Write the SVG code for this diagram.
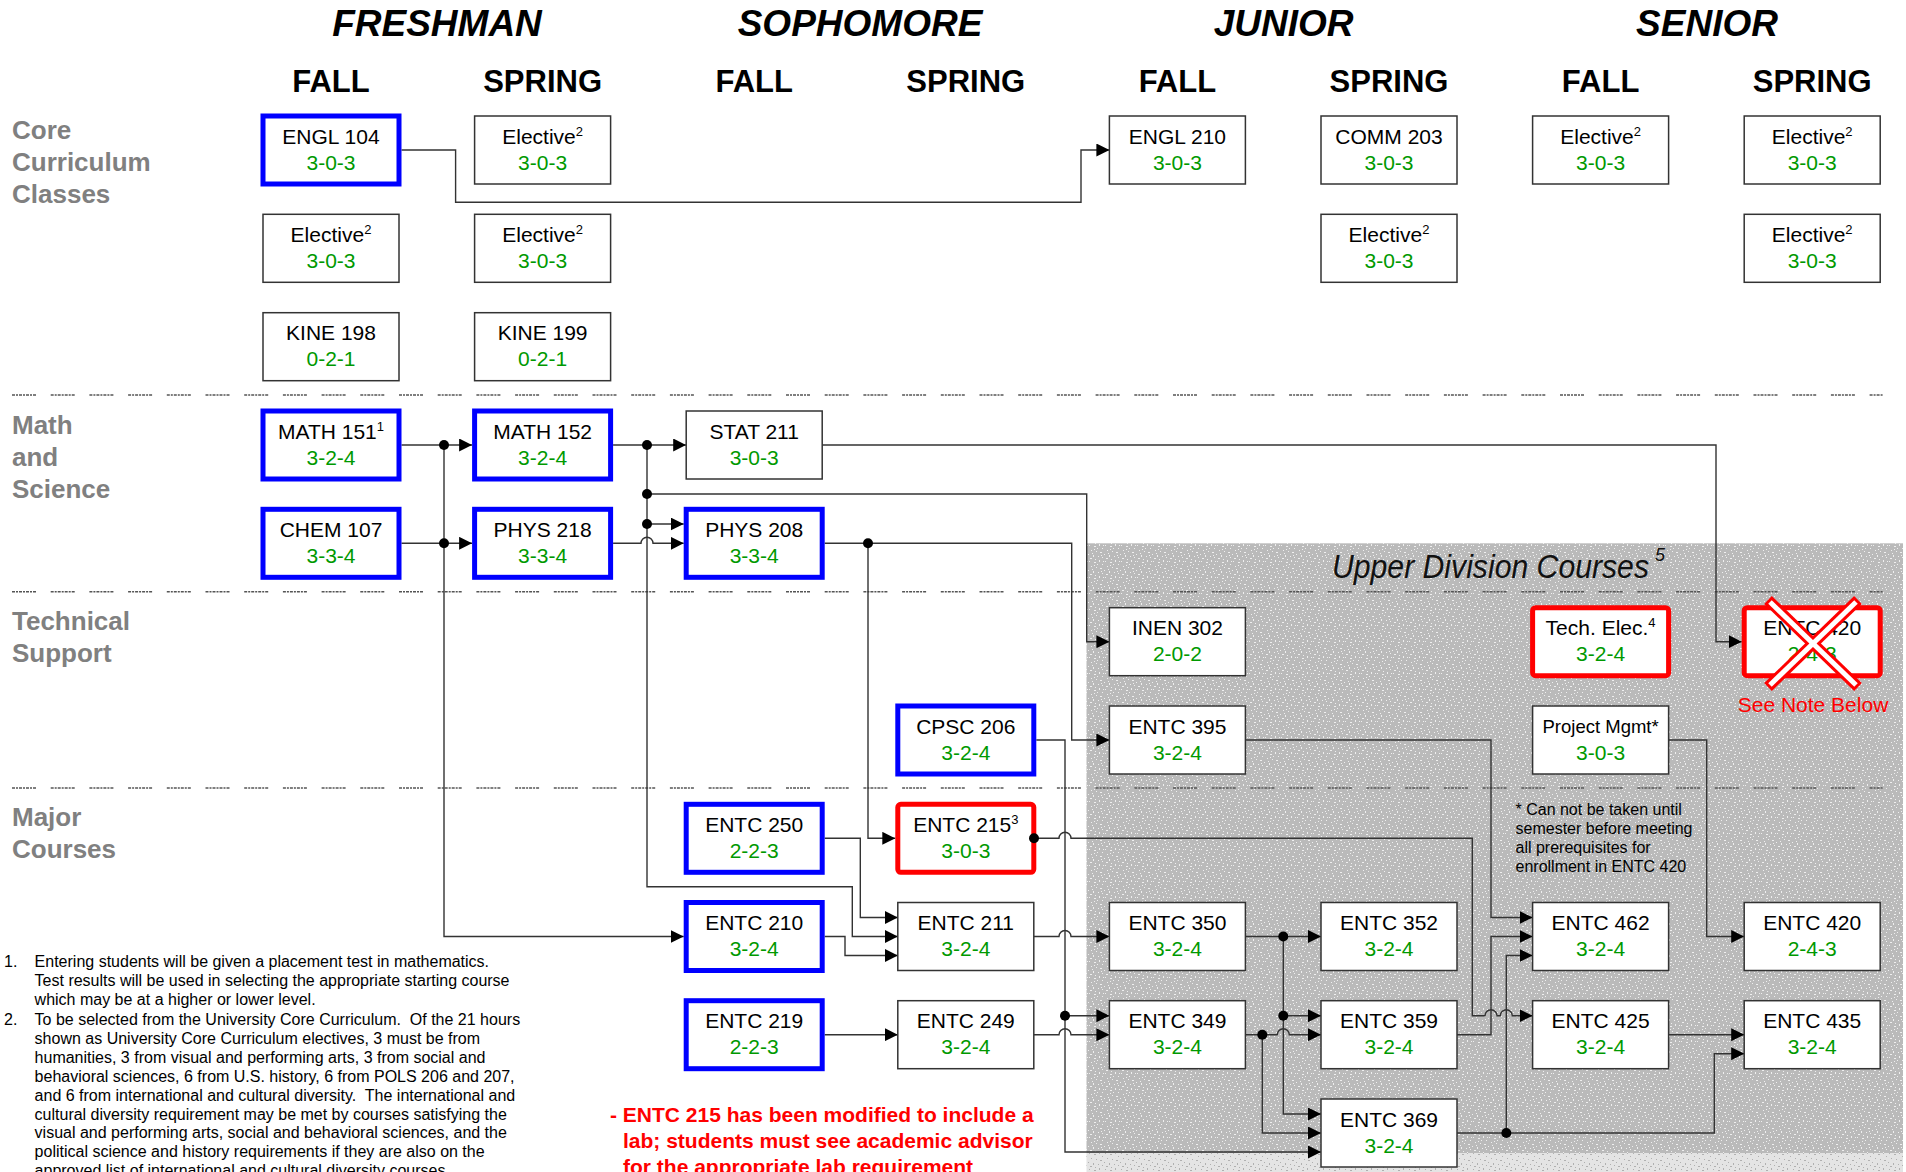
<svg xmlns="http://www.w3.org/2000/svg" width="1906" height="1172" viewBox="0 0 1906 1172">
<defs>
<style>
.box{fill:#fff;stroke:#333;stroke-width:1.5}
.blue{fill:#fff;stroke:#0000ff;stroke-width:5}
.red{fill:#fff;stroke:#ff0000;stroke-width:5}
.nm{font-family:"Liberation Sans",Arial,sans-serif;font-size:21px;fill:#000;text-anchor:middle}
.cr{font-family:"Liberation Sans",Arial,sans-serif;font-size:21px;fill:#009900;text-anchor:middle}
.sup{font-size:13px}
.lbl{font-family:"Liberation Sans",Arial,sans-serif;font-size:26px;font-weight:bold;fill:#808080}
.yr{font-family:"Liberation Sans",Arial,sans-serif;font-size:37px;font-weight:bold;font-style:italic;text-anchor:middle}
.sem{font-family:"Liberation Sans",Arial,sans-serif;font-size:31px;font-weight:bold;text-anchor:middle}
.ln{fill:none;stroke:#333;stroke-width:1.4}
.arr{marker-end:url(#ah)}
.dot{fill:#000}
.sep{stroke:#555;stroke-width:1.6;stroke-dasharray:3 1 2 1 3 1 2 1 3 1 2 1 3 14.7}
.fn{font-family:"Liberation Sans",Arial,sans-serif;font-size:16px;fill:#000}
.note{font-family:"Liberation Sans",Arial,sans-serif;font-size:21px;font-weight:bold;fill:#ff0000}
</style>
<marker id="ah" markerUnits="userSpaceOnUse" markerWidth="13" markerHeight="13" refX="13" refY="6.5" orient="auto">
<path d="M0,0 L13,6.5 L0,13 z" fill="#000"/>
</marker>
<pattern id="grain" width="16" height="16" patternUnits="userSpaceOnUse">
<rect width="16" height="16" fill="#bababa"/>
<path fill="#efefef" d="M1 1h1v1H1zM6 2h2v1H6zM11 0h1v2h-1zM14 4h1v1h-1zM3 6h1v1H3zM8 7h1v1H8zM12 8h2v1h-2zM0 10h1v1H0zM5 11h1v2H5zM10 12h1v1h-1zM14 13h1v1h-1zM2 14h2v1H2zM7 15h1v1H7zM9 4h1v1H9zM4 9h1v1H4zM13 11h1v1h-1zM15 1h1v1h-1zM6 5h1v1H6z"/>
</pattern>
<pattern id="grain2" width="16" height="16" patternUnits="userSpaceOnUse">
<rect width="16" height="16" fill="#e4e4e4"/>
<path fill="#b0b0b0" d="M1 1h1v1H1zM6 2h2v1H6zM11 0h1v2h-1zM14 4h1v1h-1zM3 6h1v1H3zM8 7h1v1H8zM12 8h2v1h-2zM0 10h1v1H0zM5 11h1v2H5zM10 12h1v1h-1zM14 13h1v1h-1zM2 14h2v1H2zM7 15h1v1H7z"/>
</pattern>
</defs>
<rect width="1906" height="1172" fill="#fff"/>

<!-- upper division background -->
<g id="upper-division">
<rect x="1086.5" y="543.3" width="816.5" height="609.7" fill="url(#grain)"/>
<rect x="1086.5" y="1153" width="816.5" height="19" fill="url(#grain2)"/>
<text transform="translate(1332,578) scale(0.915,1)" font-family="'Liberation Sans',Arial,sans-serif" font-size="33" font-style="italic" fill="#111">Upper Division Courses</text>
<text x="1655" y="561" font-family="'Liberation Sans',Arial,sans-serif" font-size="18" font-style="italic" fill="#111">5</text>
</g>

<!-- separators -->
<g id="separators">
<line class="sep" x1="12" y1="395" x2="1883" y2="395"/>
<line class="sep" x1="12" y1="591.7" x2="1883" y2="591.7"/>
<line class="sep" x1="12" y1="788" x2="1883" y2="788"/>
</g>

<!-- headers -->
<g id="headers">
<text class="yr" x="437" y="36">FRESHMAN</text>
<text class="yr" x="860" y="36">SOPHOMORE</text>
<text class="yr" x="1283.6" y="36">JUNIOR</text>
<text class="yr" x="1707" y="36">SENIOR</text>
<text class="sem" x="331" y="92">FALL</text>
<text class="sem" x="542.6" y="92">SPRING</text>
<text class="sem" x="754.2" y="92">FALL</text>
<text class="sem" x="965.8" y="92">SPRING</text>
<text class="sem" x="1177.4" y="92">FALL</text>
<text class="sem" x="1389" y="92">SPRING</text>
<text class="sem" x="1600.6" y="92">FALL</text>
<text class="sem" x="1812.2" y="92">SPRING</text>
</g>

<g id="row-labels">
<text class="lbl" x="12" y="139">Core</text>
<text class="lbl" x="12" y="171">Curriculum</text>
<text class="lbl" x="12" y="203">Classes</text>
<text class="lbl" x="12" y="434">Math</text>
<text class="lbl" x="12" y="466">and</text>
<text class="lbl" x="12" y="498">Science</text>
<text class="lbl" x="12" y="630">Technical</text>
<text class="lbl" x="12" y="662">Support</text>
<text class="lbl" x="12" y="826">Major</text>
<text class="lbl" x="12" y="858">Courses</text>
</g>

<!-- connectors -->
<g id="connectors">
<path class="ln arr" d="M401.5,150 H455.6 V202.3 H1081 V150 H1109.4"/>
<path class="ln arr" d="M401.5,445 H472.1"/>
<path class="ln arr" d="M401.5,543.3 H472.1"/>
<path class="ln arr" d="M444,445 V936.5 H683.7"/>
<path class="ln arr" d="M613.1,445 H686.2"/>
<path class="ln arr" d="M647,445 V886.7 H852.3 V936.5 H897.8"/>
<path class="ln arr" d="M647,494 H1086.7 V641.7 H1109.4"/>
<path class="ln arr" d="M647,524 H683.7"/>
<path class="ln arr" d="M613.1,543.3 H641 A6,6 0 0 1 653,543.3 H683.7"/>
<path class="ln arr" d="M824.7,543.3 H1071.7 V740 H1109.4"/>
<path class="ln arr" d="M868,543.3 V838.3 H895.3"/>
<path class="ln arr" d="M822.2,445 H1716 V641.7 H1741.7"/>
<path class="ln arr" d="M1036.3,740 H1065 V1152 H1321"/>
<path class="ln arr" d="M1065,1015.7 H1109.4"/>
<path class="ln arr" d="M824.7,838.3 H860.3 V917.5 H897.8"/>
<path class="ln arr" d="M824.7,936.5 H845 V955.5 H897.8"/>
<path class="ln arr" d="M824.7,1034.7 H897.8"/>
<path class="ln arr" d="M1036.3,838.3 H1059 A6,6 0 0 1 1071,838.3 H1472.3 V1015.7 H1485 A6,6 0 0 1 1497,1015.7 H1500.3 A6,6 0 0 1 1512.3,1015.7 H1532.6"/>
<path class="ln arr" d="M1033.8,936.5 H1059 A6,6 0 0 1 1071,936.5 H1109.4"/>
<path class="ln arr" d="M1033.8,1034.7 H1059 A6,6 0 0 1 1071,1034.7 H1109.4"/>
<path class="ln arr" d="M1245.4,740 H1491 V917.5 H1532.6"/>
<path class="ln arr" d="M1245.4,936.5 H1321"/>
<path class="ln arr" d="M1283.3,936.5 V1114 H1321"/>
<path class="ln arr" d="M1283.3,1015.7 H1321"/>
<path class="ln arr" d="M1245.4,1034.7 H1277.3 A6,6 0 0 1 1289.3,1034.7 H1321"/>
<path class="ln arr" d="M1262.3,1034.7 V1133 H1321"/>
<path class="ln arr" d="M1457,1034.7 H1491 V936.5 H1532.6"/>
<path class="ln arr" d="M1457,1133 H1714.3 V1053.7 H1744.2"/>
<path class="ln arr" d="M1506.3,1133 V955.5 H1532.6"/>
<path class="ln arr" d="M1668.6,1034.7 H1744.2"/>
<path class="ln arr" d="M1668.6,740 H1706.7 V936.5 H1744.2"/>
<circle class="dot" cx="444" cy="445" r="5"/>
<circle class="dot" cx="444" cy="543.3" r="5"/>
<circle class="dot" cx="647" cy="445" r="5"/>
<circle class="dot" cx="647" cy="494" r="5"/>
<circle class="dot" cx="647" cy="524" r="5"/>
<circle class="dot" cx="868" cy="543.3" r="5"/>
<circle class="dot" cx="1065" cy="1015.7" r="5"/>
<circle class="dot" cx="1283.3" cy="936.5" r="5"/>
<circle class="dot" cx="1283.3" cy="1015.7" r="5"/>
<circle class="dot" cx="1262.3" cy="1034.7" r="5"/>
<circle class="dot" cx="1506.3" cy="1133" r="5"/>
</g>

<!-- Freshman fall -->
<g id="engl104"><rect class="blue" x="263" y="116" width="136" height="68"/><text class="nm" x="331" y="143.5">ENGL 104</text><text class="cr" x="331" y="169.5">3-0-3</text></g>
<g id="elective-ff"><rect class="box" x="263" y="214.3" width="136" height="68"/><text class="nm" x="331" y="241.8">Elective<tspan class="sup" dy="-8">2</tspan></text><text class="cr" x="331" y="267.8">3-0-3</text></g>
<g id="kine198"><rect class="box" x="263" y="312.7" width="136" height="68"/><text class="nm" x="331" y="340.2">KINE 198</text><text class="cr" x="331" y="366.2">0-2-1</text></g>
<g id="math151"><rect class="blue" x="263" y="411" width="136" height="68"/><text class="nm" x="331" y="438.5">MATH 151<tspan class="sup" dy="-8">1</tspan></text><text class="cr" x="331" y="464.5">3-2-4</text></g>
<g id="chem107"><rect class="blue" x="263" y="509.3" width="136" height="68"/><text class="nm" x="331" y="536.8">CHEM 107</text><text class="cr" x="331" y="562.8">3-3-4</text></g>

<!-- Freshman spring -->
<g id="elective-fs1"><rect class="box" x="474.6" y="116" width="136" height="68"/><text class="nm" x="542.6" y="143.5">Elective<tspan class="sup" dy="-8">2</tspan></text><text class="cr" x="542.6" y="169.5">3-0-3</text></g>
<g id="elective-fs2"><rect class="box" x="474.6" y="214.3" width="136" height="68"/><text class="nm" x="542.6" y="241.8">Elective<tspan class="sup" dy="-8">2</tspan></text><text class="cr" x="542.6" y="267.8">3-0-3</text></g>
<g id="kine199"><rect class="box" x="474.6" y="312.7" width="136" height="68"/><text class="nm" x="542.6" y="340.2">KINE 199</text><text class="cr" x="542.6" y="366.2">0-2-1</text></g>
<g id="math152"><rect class="blue" x="474.6" y="411" width="136" height="68"/><text class="nm" x="542.6" y="438.5">MATH 152</text><text class="cr" x="542.6" y="464.5">3-2-4</text></g>
<g id="phys218"><rect class="blue" x="474.6" y="509.3" width="136" height="68"/><text class="nm" x="542.6" y="536.8">PHYS 218</text><text class="cr" x="542.6" y="562.8">3-3-4</text></g>

<!-- Sophomore fall -->
<g id="stat211"><rect class="box" x="686.2" y="411" width="136" height="68"/><text class="nm" x="754.2" y="438.5">STAT 211</text><text class="cr" x="754.2" y="464.5">3-0-3</text></g>
<g id="phys208"><rect class="blue" x="686.2" y="509.3" width="136" height="68"/><text class="nm" x="754.2" y="536.8">PHYS 208</text><text class="cr" x="754.2" y="562.8">3-3-4</text></g>
<g id="entc250"><rect class="blue" x="686.2" y="804.3" width="136" height="68"/><text class="nm" x="754.2" y="831.8">ENTC 250</text><text class="cr" x="754.2" y="857.8">2-2-3</text></g>
<g id="entc210"><rect class="blue" x="686.2" y="902.5" width="136" height="68"/><text class="nm" x="754.2" y="930">ENTC 210</text><text class="cr" x="754.2" y="956">3-2-4</text></g>
<g id="entc219"><rect class="blue" x="686.2" y="1000.7" width="136" height="68"/><text class="nm" x="754.2" y="1028.2">ENTC 219</text><text class="cr" x="754.2" y="1054.2">2-2-3</text></g>

<!-- Sophomore spring -->
<g id="cpsc206"><rect class="blue" x="897.8" y="706" width="136" height="68"/><text class="nm" x="965.8" y="733.5">CPSC 206</text><text class="cr" x="965.8" y="759.5">3-2-4</text></g>
<g id="entc215"><rect class="red" x="897.8" y="804.3" width="136" height="68" rx="3"/><text class="nm" x="965.8" y="831.8">ENTC 215<tspan class="sup" dy="-8">3</tspan></text><text class="cr" x="965.8" y="857.8">3-0-3</text><circle class="dot" cx="1034" cy="838.3" r="5"/></g>
<g id="entc211"><rect class="box" x="897.8" y="902.5" width="136" height="68"/><text class="nm" x="965.8" y="930">ENTC 211</text><text class="cr" x="965.8" y="956">3-2-4</text></g>
<g id="entc249"><rect class="box" x="897.8" y="1000.7" width="136" height="68"/><text class="nm" x="965.8" y="1028.2">ENTC 249</text><text class="cr" x="965.8" y="1054.2">3-2-4</text></g>

<!-- Junior fall -->
<g id="engl210"><rect class="box" x="1109.4" y="116" width="136" height="68"/><text class="nm" x="1177.4" y="143.5">ENGL 210</text><text class="cr" x="1177.4" y="169.5">3-0-3</text></g>
<g id="inen302"><rect class="box" x="1109.4" y="607.7" width="136" height="68"/><text class="nm" x="1177.4" y="635.2">INEN 302</text><text class="cr" x="1177.4" y="661.2">2-0-2</text></g>
<g id="entc395"><rect class="box" x="1109.4" y="706" width="136" height="68"/><text class="nm" x="1177.4" y="733.5">ENTC 395</text><text class="cr" x="1177.4" y="759.5">3-2-4</text></g>
<g id="entc350"><rect class="box" x="1109.4" y="902.5" width="136" height="68"/><text class="nm" x="1177.4" y="930">ENTC 350</text><text class="cr" x="1177.4" y="956">3-2-4</text></g>
<g id="entc349"><rect class="box" x="1109.4" y="1000.7" width="136" height="68"/><text class="nm" x="1177.4" y="1028.2">ENTC 349</text><text class="cr" x="1177.4" y="1054.2">3-2-4</text></g>

<!-- Junior spring -->
<g id="comm203"><rect class="box" x="1321" y="116" width="136" height="68"/><text class="nm" x="1389" y="143.5">COMM 203</text><text class="cr" x="1389" y="169.5">3-0-3</text></g>
<g id="elective-js"><rect class="box" x="1321" y="214.3" width="136" height="68"/><text class="nm" x="1389" y="241.8">Elective<tspan class="sup" dy="-8">2</tspan></text><text class="cr" x="1389" y="267.8">3-0-3</text></g>
<g id="entc352"><rect class="box" x="1321" y="902.5" width="136" height="68"/><text class="nm" x="1389" y="930">ENTC 352</text><text class="cr" x="1389" y="956">3-2-4</text></g>
<g id="entc359"><rect class="box" x="1321" y="1000.7" width="136" height="68"/><text class="nm" x="1389" y="1028.2">ENTC 359</text><text class="cr" x="1389" y="1054.2">3-2-4</text></g>
<g id="entc369"><rect class="box" x="1321" y="1099" width="136" height="68"/><text class="nm" x="1389" y="1126.5">ENTC 369</text><text class="cr" x="1389" y="1152.5">3-2-4</text></g>

<!-- Senior fall -->
<g id="elective-sf"><rect class="box" x="1532.6" y="116" width="136" height="68"/><text class="nm" x="1600.6" y="143.5">Elective<tspan class="sup" dy="-8">2</tspan></text><text class="cr" x="1600.6" y="169.5">3-0-3</text></g>
<g id="techelec"><rect class="red" x="1532.6" y="607.7" width="136" height="68" rx="3"/><text class="nm" x="1600.6" y="635.2">Tech. Elec.<tspan class="sup" dy="-8">4</tspan></text><text class="cr" x="1600.6" y="661.2">3-2-4</text></g>
<g id="projmgmt"><rect class="box" x="1532.6" y="706" width="136" height="68"/><text class="nm" x="1600.6" y="733" style="font-size:18.5px">Project Mgmt*</text><text class="cr" x="1600.6" y="759.5">3-0-3</text></g>
<g id="entc462"><rect class="box" x="1532.6" y="902.5" width="136" height="68"/><text class="nm" x="1600.6" y="930">ENTC 462</text><text class="cr" x="1600.6" y="956">3-2-4</text></g>
<g id="entc425"><rect class="box" x="1532.6" y="1000.7" width="136" height="68"/><text class="nm" x="1600.6" y="1028.2">ENTC 425</text><text class="cr" x="1600.6" y="1054.2">3-2-4</text></g>
<g id="footnote-star"><text class="fn" x="1515.5" y="815">* Can not be taken until</text><text class="fn" x="1515.5" y="834">semester before meeting</text><text class="fn" x="1515.5" y="853">all prerequisites for</text><text class="fn" x="1515.5" y="872">enrollment in ENTC 420</text></g>

<!-- Senior spring -->
<g id="elective-ss1"><rect class="box" x="1744.2" y="116" width="136" height="68"/><text class="nm" x="1812.2" y="143.5">Elective<tspan class="sup" dy="-8">2</tspan></text><text class="cr" x="1812.2" y="169.5">3-0-3</text></g>
<g id="elective-ss2"><rect class="box" x="1744.2" y="214.3" width="136" height="68"/><text class="nm" x="1812.2" y="241.8">Elective<tspan class="sup" dy="-8">2</tspan></text><text class="cr" x="1812.2" y="267.8">3-0-3</text></g>
<g id="entc420-old"><rect class="red" x="1744.2" y="607.7" width="136" height="68" rx="3"/><text class="nm" x="1812.2" y="635.2">ENTC 420</text><text class="cr" x="1812.2" y="661.2">2-4-3</text>
<line x1="1768" y1="600" x2="1858" y2="687" stroke="#ff0000" stroke-width="11"/>
<line x1="1858" y1="600" x2="1768" y2="687" stroke="#ff0000" stroke-width="11"/>
<line x1="1770" y1="602" x2="1856" y2="685" stroke="#fff" stroke-width="5"/>
<line x1="1856" y1="602" x2="1770" y2="685" stroke="#fff" stroke-width="5"/>
<text x="1813" y="712" font-family="'Liberation Sans',Arial,sans-serif" font-size="21" fill="#ff0000" text-anchor="middle">See Note Below</text></g>
<g id="entc420"><rect class="box" x="1744.2" y="902.5" width="136" height="68"/><text class="nm" x="1812.2" y="930">ENTC 420</text><text class="cr" x="1812.2" y="956">2-4-3</text></g>
<g id="entc435"><rect class="box" x="1744.2" y="1000.7" width="136" height="68"/><text class="nm" x="1812.2" y="1028.2">ENTC 435</text><text class="cr" x="1812.2" y="1054.2">3-2-4</text></g>

<!-- notes -->
<g id="red-note">
<text class="note" x="610" y="1122.3">- ENTC 215 has been modified to include a</text>
<text class="note" x="623" y="1148.3">lab; students must see academic advisor</text>
<text class="note" x="623" y="1174.3">for the appropriate lab requirement</text>
</g>
<g id="footnotes">
<text class="fn" x="4" y="967.3">1.</text>
<text class="fn" x="34.6" y="967.3">Entering students will be given a placement test in mathematics.</text>
<text class="fn" x="34.6" y="986.2">Test results will be used in selecting the appropriate starting course</text>
<text class="fn" x="34.6" y="1005.1">which may be at a higher or lower level.</text>
<text class="fn" x="4" y="1025">2.</text>
<text class="fn" x="34.6" y="1025" xml:space="preserve">To be selected from the University Core Curriculum.  Of the 21 hours</text>
<text class="fn" x="34.6" y="1043.9">shown as University Core Curriculum electives, 3 must be from</text>
<text class="fn" x="34.6" y="1062.8">humanities, 3 from visual and performing arts, 3 from social and</text>
<text class="fn" x="34.6" y="1081.7">behavioral sciences, 6 from U.S. history, 6 from POLS 206 and 207,</text>
<text class="fn" x="34.6" y="1100.6" xml:space="preserve">and 6 from international and cultural diversity.  The international and</text>
<text class="fn" x="34.6" y="1119.5">cultural diversity requirement may be met by courses satisfying the</text>
<text class="fn" x="34.6" y="1138.4">visual and performing arts, social and behavioral sciences, and the</text>
<text class="fn" x="34.6" y="1157.3">political science and history requirements if they are also on the</text>
<text class="fn" x="34.6" y="1176.2">approved list of international and cultural diversity courses.</text>
</g>
</svg>
